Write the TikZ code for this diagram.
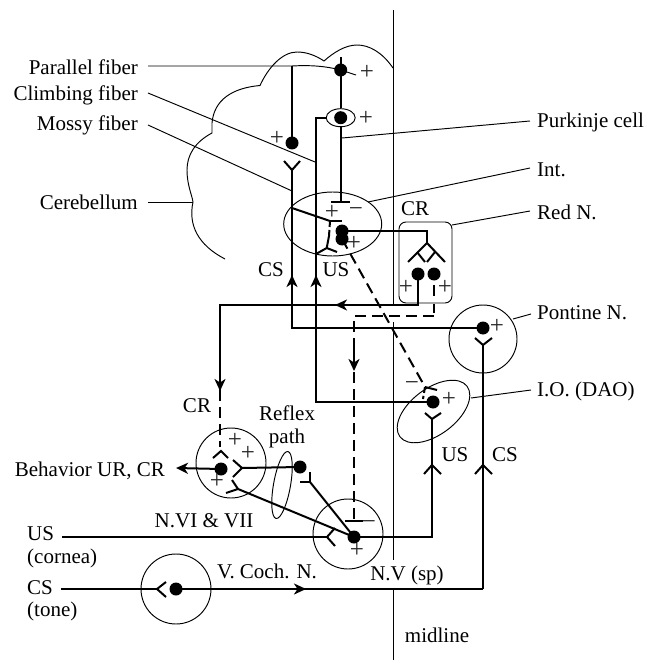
\documentclass[tikz,border=0pt]{standalone}
\usepackage{fontspec}
\setmainfont{Liberation Serif}
\usetikzlibrary{arrows.meta,calc,shapes.geometric}
\tikzset{
  thinl/.style={line width=0.95pt},
  thickl/.style={line width=2pt},
  dashl/.style={line width=2pt,dash pattern=on 11pt off 6pt},
  dot/.style={circle,fill=black,draw=none,inner sep=0pt,minimum size=13pt},
  lab/.style={inner sep=0pt,font=\fontsize{21}{23}\selectfont},
  sign/.style={inner sep=0pt,font=\fontsize{25}{26}\selectfont,text=black!85},
  head/.style={thickl,-{Stealth[length=12pt,width=11pt,inset=3.5pt]}},
  nuc/.style={thinl,draw,circle,inner sep=0pt,minimum size=70pt},
}
\begin{document}
\begin{tikzpicture}[x=1pt,y=-1pt]
\useasboundingbox (0,0) rectangle (656,660);
% midline
\coordinate (mA) at (393,10); \coordinate (mB) at (393,305);
\coordinate (mC) at (393,322); \coordinate (mD) at (393,560);
\coordinate (mE) at (393,589); \coordinate (mF) at (393,660);
\draw[thinl] (mA)--(mB) (mC)--(mD) (mE)--(mF);
% cerebellum
\draw[thinl] (393,68) .. controls (382,52) and (369,45) .. (357,45) .. controls (345,45) and (333,53) .. (324,61)
 .. controls (315,55) and (306,52) .. (297,52) .. controls (282,52) and (268,68) .. (260,85.5)
 .. controls (232,88) and (214,100) .. (212,123) -- (212,133)
 .. controls (195,142) and (187,155) .. (187,170) .. controls (187,185) and (192,195) .. (193,202)
 .. controls (188,225) and (198,245) .. (225,259);
% dots
\node[dot] (dPF) at (340.7,70) {};
\node[dot] (dPC) at (340.7,117.7) {};
\node[dot] (dGR) at (292,143) {};
\node[dot] (dI1) at (342,231) {};
\node[dot] (dI2) at (342,239) {};
\node[dot] (dR1) at (418,274) {};
\node[dot] (dR2) at (434,274) {};
\node[dot] (dPN) at (483,328) {};
\node[dot] (dIO) at (433,402) {};
\node[dot] (dNV) at (354,537) {};
\node[dot] (dFN) at (221,469) {};
\node[dot] (dRP) at (300,467) {};
\node[dot] (dCO) at (176,589) {};
% nuclei
\node[thinl,draw,ellipse,inner sep=0pt,minimum width=98pt,minimum height=64pt] (nInt) at (332.7,224) {};
\node[nuc,minimum size=68pt] (nPN) at (483,339) {};
\node[nuc] (nNV) at (348,534) {};
\node[nuc] (nFN) at (231,463) {};
\node[nuc] (nCO) at (176,589) {};
\node[thinl,draw,ellipse,inner sep=0pt,minimum width=29pt,minimum height=18pt] (oPC) at (340.7,117.7) {};
\node[thinl,draw,ellipse,rotate=37,inner sep=0pt,minimum width=84pt,minimum height=46pt] (nIO) at (433.5,411.5) {};
\node[thinl,draw,ellipse,rotate=80,inner sep=0pt,minimum width=68pt,minimum height=17pt] (nRP) at (282,485) {};
\node[thinl,draw,rounded corners=7pt,inner sep=0pt,minimum width=53pt,minimum height=81pt] (nRed) at (425.5,262.5) {};
% labels
\node[lab,anchor=east] (tPF) at (138,67) {Parallel fiber};
\node[lab,anchor=east] (tCF) at (138,95) {Climbing fiber};
\node[lab,anchor=east] (tMF) at (138,125) {Mossy fiber};
\node[lab,anchor=east] (tCB) at (138,202) {Cerebellum};
\node[lab,anchor=west] (tPC) at (537,122) {Purkinje cell};
\node[lab,anchor=west] (tIN) at (537,170) {Int.};
\node[lab,anchor=west] (tRN) at (537,212) {Red N.};
\node[lab,anchor=west] (tPN) at (537,313) {Pontine N.};
\node[lab,anchor=west] (tIO) at (537,391) {I.O. (DAO)};
\node[lab] (tCS1) at (271,270) {CS};
\node[lab] (tUS1) at (336,270) {US};
\node[lab] (tCR1) at (415,209) {CR};
\node[lab] (tCR2) at (197,406) {CR};
\node[lab] (tRF) at (287,413) {Reflex};
\node[lab] (tPT) at (287,438) {path};
\node[lab] (tNV7) at (204,521) {N.VI \& VII};
\node[lab,anchor=east] (tBH) at (165,471) {Behavior UR, CR};
\node[lab,anchor=west] (tUS2) at (27,534) {US};
\node[lab,anchor=west] (tCOR) at (27,558) {(cornea)};
\node[lab,anchor=west] (tCS2) at (27,588) {CS};
\node[lab,anchor=west] (tTON) at (27,611) {(tone)};
\node[lab] (tVC) at (267,571) {V. Coch. N.};
\node[lab] (tNVs) at (407,575) {N.V (sp)};
\node[lab] (tMID) at (437,635) {midline};
\node[lab] (tUS3) at (455,455) {US};
\node[lab] (tCS3) at (505,455) {CS};
% signs
\node[sign] (s1) at (367,72) {+};
\node[sign] (s2) at (366,118) {+};
\node[sign] (s3) at (277,138) {+};
\node[sign] (s4) at (332,212) {+};
\node[sign] (s5) at (356,212) {−};
\node[sign] (s6) at (354,243) {+};
\node[sign] (s7) at (406,287) {+};
\node[sign] (s8) at (445,287) {+};
\node[sign] (s9) at (497,326) {+};
\node[sign] (s10) at (449,399) {+};
\node[sign] (s11) at (412,386) {−};
\node[sign] (s12) at (357,550) {+};
\node[sign] (s13) at (369,525) {−};
\node[sign] (s14) at (235,440) {+};
\node[sign] (s15) at (248,453) {+};
\node[sign] (s16) at (217,481) {+};
% leader lines
\draw[thinl] (148,66) -- (292,66) .. controls (310,65) and (325,66) .. (dPF.center) -- (356,75);
\draw[thinl] (148,93) -- (315,162);
\draw[thinl] (148,125) -- (292,191);
\draw[thinl] (148,202) -- (193,202);
\draw[thinl] (342,138) -- (530,121);
\draw[thinl] (368,202) -- (530,168);
\draw[thinl] (452,225) -- (530,211);
\draw[thinl] (513,319) -- (531,314);
\draw[thinl] (471,398) -- (531,390);
% Purkinje
\coordinate (pTop) at (340.7,57);
\coordinate (pBar) at (340.7,201.7);
\draw[thickl] (pTop) -- (dPF.center) -- (oPC.north);
\draw[thickl] (oPC.south) -- (pBar);
\draw[thickl] (331,201.7) -- (350,201.7);
% granule
\draw[thickl] (292,66) -- (dGR.center);
% mossy
\coordinate (mfFork) at (292,170);
\draw[thickl] (284,161) -- (mfFork) -- (300,161);
\draw[thickl] (mfFork) -- (292,328) -- (dPN.center);
\draw[head] (292,296) -- (292,275);
% climbing
\draw[thickl] (oPC.west) -- (316,117.7) -- (316,402) -- (dIO.center);
\draw[head] (316,296) -- (316,275);
% Int inside
\coordinate (iT) at (330,221);
\draw[thickl] (292,208) -- (iT);
\draw[thickl] (iT) -- (342,221);
\draw[thickl,dash pattern=on 6pt off 3pt] (iT) -- (329,236);
\coordinate (iY) at (326.7,248);
\draw[thickl] (329,236) -- (iY) -- (316,254) (iY) -- (337,252);
\draw[thickl] (dI1.center) -- (427,231) -- (427,243);
\draw[thickl] (408,262) -- (427,243) -- (445,262);
\draw[thickl] (417,252) -- (425,262) (435,252) -- (427,262);
% Red N outputs
\draw[thickl] (dR1.center) -- (418,305) -- (220,305) -- (220,390);
\draw[head] (350,305) -- (335,305);
\draw[head] (220,370) -- (220,391);
\draw[dashl] (220,390) -- (220,447);
\draw[thickl] (213,458) -- (221,451) -- (228,458);
\draw[thickl] (434,285) -- (434,296);
\draw[thickl] (434,304) -- (434,313);
\draw[dashl] (434,316) -- (354,316) -- (354,519);
\draw[head] (354,347) -- (354,371);
\draw[thickl] (345,520.7) -- (363,520.7);
% olive inhibition
\draw[dashl] (dI2.center) -- (425,387);
\draw[thickl] (425,387) -- (437,390);
\draw[thickl,dash pattern=on 6pt off 3pt] (425,387) -- (423,399);
% IO
\coordinate (ioF) at (432,419);
\draw[thickl] (425,413) -- (ioF) -- (441,413);
\draw[thickl] (ioF) -- (432,537) -- (dNV.center);
\draw[thickl] (424,474) -- (432,465) -- (441,474);
% Pontine
\coordinate (pnF) at (483,345);
\draw[thickl] (475,338) -- (pnF) -- (492,338);
\draw[thickl] (pnF) -- (483,589);
\draw[thickl] (475,474) -- (483,465) -- (492,474);
% CS
\draw[thickl] (61,589) -- (157,589);
\draw[thickl] (166,582) -- (157,589) -- (166,597);
\draw[thickl] (dCO.center) -- (483,589);
\draw[head] (285,589) -- (306,589);
% US
\draw[thickl] (62,537) -- (327,537);
\draw[thickl] (335,528) -- (327,537) -- (335,546);
% N.V to facial
\draw[thickl] (dNV.center) -- (310,482);
\draw[thickl] (300,482) -- (310,482) -- (310,472);
\draw[thickl] (dNV.center) -- (238,489);
\draw[thickl] (226,493) -- (238,489) -- (232,480);
% facial
\draw[thickl] (242,468) -- (dRP.center);
\draw[thickl] (233,460) -- (242,468) -- (233,477);
\draw[head] (dFN.center) -- (176,468);
\end{tikzpicture}
\end{document}
